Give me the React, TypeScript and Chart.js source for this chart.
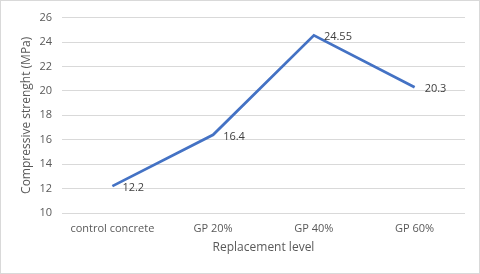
import React, { useEffect, useRef } from "react";
import { Chart, registerables } from "chart.js";

Chart.register(...registerables);

const categories = ["control concrete", "GP 20%", "GP 40%", "GP 60%"];
const strengthValues = [12.2, 16.4, 24.55, 20.3];
const yTicks = [10, 12, 14, 16, 18, 20, 22, 24, 26];

const FONT = "'Open Sans', 'Noto Sans', sans-serif";

const labelPlugin = {
  id: "pointLabels",
  afterDatasetsDraw(chart: any) {
    const ctx = chart.ctx;
    const meta = chart.getDatasetMeta(0);
    ctx.save();
    ctx.font = `11px ${FONT}`;
    ctx.fillStyle = "#404040";
    ctx.textAlign = "left";
    ctx.textBaseline = "middle";
    meta.data.forEach((el: any, i: number) => {
      ctx.fillText(String(strengthValues[i]), el.x + 10, el.y + 2);
    });
    ctx.restore();
  },
};

export default function App() {
  const ref = useRef<HTMLCanvasElement>(null);
  useEffect(() => {
    if (!ref.current) return;
    const chart = new Chart(ref.current, {
      type: "line",
      data: {
        labels: categories,
        datasets: [
          {
            data: strengthValues,
            borderColor: "#4472C4",
            borderWidth: 2.75,
            pointRadius: 0,
            tension: 0,
            fill: false,
          },
        ],
      },
      options: {
        animation: false,
        responsive: false,
        maintainAspectRatio: false,
        layout: { padding: { left: 0, right: 14, top: 14, bottom: 0 } },
        plugins: { legend: { display: false }, tooltip: { enabled: false } },
        scales: {
          x: {
            offset: true,
            grid: { display: false, drawTicks: false },
            border: { display: false },
            ticks: { color: "#595959", font: { family: FONT, size: 11 }, padding: 9, maxRotation: 0 },
            title: {
              display: true,
              text: "Replacement level",
              color: "#595959",
              font: { family: FONT, size: 12 },
              padding: { top: 0, bottom: 18 },
            },
            afterFit: (s: any) => {
              s.height = 60;
            },
          },
          y: {
            min: 10,
            max: 26,
            afterBuildTicks: (s: any) => {
              s.ticks = yTicks.map((v) => ({ value: v }));
            },
            grid: { color: "#d9d9d9", drawTicks: false, lineWidth: 1 },
            border: { display: false },
            ticks: { color: "#595959", font: { family: FONT, size: 11 }, padding: 10 },
            title: {
              display: true,
              text: "Compressive strenght (MPa)",
              color: "#595959",
              font: { family: FONT, size: 12 },
              padding: { top: 18, bottom: 0 },
            },
            afterFit: (s: any) => {
              s.width = 61;
            },
          },
        },
      },
      plugins: [labelPlugin],
    });
    return () => chart.destroy();
  }, []);
  return (
    <div
      style={{
        position: "fixed",
        left: 0,
        top: 0,
        width: 480,
        height: 274,
        boxSizing: "border-box",
        border: "1px solid #d9d9d9",
        background: "#fff",
        overflow: "hidden",
      }}
    >
      <canvas ref={ref} width={478} height={272} style={{ display: "block" }} />
    </div>
  );
}
